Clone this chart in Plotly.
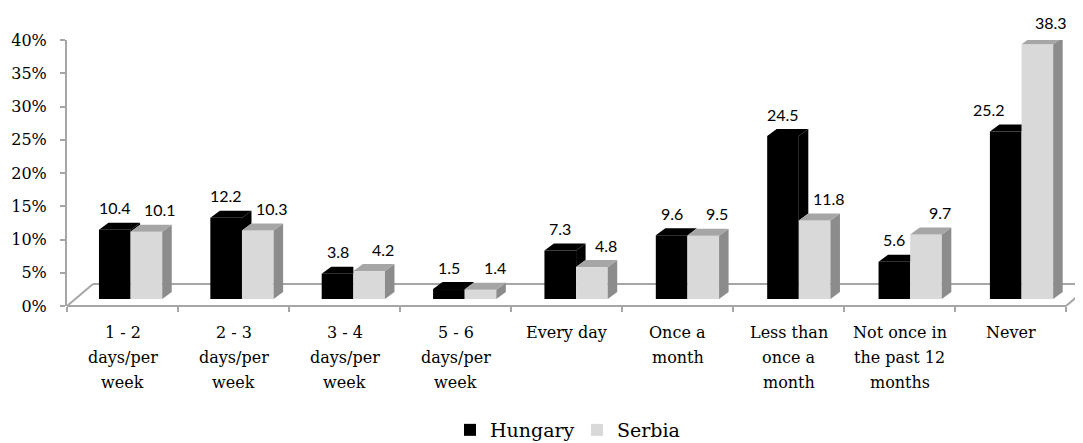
import plotly.graph_objects as go

# ---------------- data ----------------
categories = [
    "1 - 2\ndays/per\nweek",
    "2 - 3\ndays/per\nweek",
    "3 - 4\ndays/per\nweek",
    "5 - 6\ndays/per\nweek",
    "Every day",
    "Once a\nmonth",
    "Less than\nonce a\nmonth",
    "Not once in\nthe past 12\nmonths",
    "Never",
]
hungary = [10.4, 12.2, 3.8, 1.5, 7.3, 9.6, 24.5, 5.6, 25.2]
serbia = [10.1, 10.3, 4.2, 1.4, 4.8, 9.5, 11.8, 9.7, 38.3]
series_names = ["Hungary", "Serbia"]
y_tickvals = [0, 5, 10, 15, 20, 25, 30, 35, 40]
y_ticktext = [f"{v}%" for v in y_tickvals]

# ---------------- layout geometry ----------------
PAGE = 8                      # default page margin of the html body
W, H = 1083 - PAGE, 443 - PAGE
M_L, M_T = 67 - PAGE, 40 - PAGE
M_R = 0
M_B = H - (306 - PAGE)
X_RANGE = [-0.5, 8.653]
Y_RANGE = [0, 40]
PX_PER_X = (W - M_L - M_R) / (X_RANGE[1] - X_RANGE[0])
PX_PER_Y = (H - M_T - M_B) / (Y_RANGE[1] - Y_RANGE[0])

BASE = 7 / PX_PER_Y          # bars stand a little behind the floor's front edge
BAR_W = 0.285
DX = 9.5 / PX_PER_X          # 3-D depth of the bars
DY = 7 / PX_PER_Y
FDX = 26 / PX_PER_X          # depth of the floor
FDY = 22 / PX_PER_Y

BLACK = "#000000"
S_FRONT = "#d9d9d9"
S_TOP = "#a6a6a6"
S_SIDE = "#8c8c8c"
GRID = "#a6a6a6"

n = len(categories)
xs = list(range(n))
h_off = [-0.212 + 0.0033 * i for i in xs]
s_off = [o + BAR_W for o in h_off]

fig = go.Figure()

# front faces
fig.add_trace(go.Bar(x=xs, y=hungary, base=BASE, width=BAR_W, offset=h_off,
                     marker=dict(color=BLACK, line=dict(width=0)),
                     name=series_names[0]))
fig.add_trace(go.Bar(x=xs, y=serbia, base=BASE, width=BAR_W, offset=s_off,
                     marker=dict(color=S_FRONT, line=dict(width=0)),
                     name=series_names[1]))

# 3-D faces built from the same values
h_top_x, h_top_y, h_side_x, h_side_y = [], [], [], []
s_top_x, s_top_y, s_side_x, s_side_y = [], [], [], []
for i in xs:
    hv, sv = hungary[i], serbia[i]
    hl = i + h_off[i]
    hr = hl + BAR_W
    sl = i + s_off[i]
    sr = sl + BAR_W
    ht = BASE + hv
    st = BASE + sv
    if sv >= hv:
        h_top_x += [hl, hl + DX, hr, hr, None]
        h_top_y += [ht, ht + DY, ht + DY, ht, None]
    else:
        h_top_x += [hl, hl + DX, hr + DX, hr, None]
        h_top_y += [ht, ht + DY, ht + DY, ht, None]
        h_side_x += [hr, hr + DX, hr + DX, hr, None]
        h_side_y += [st, st + DY, ht + DY, ht, None]
    s_side_x += [sr, sr + DX, sr + DX, sr, None]
    s_side_y += [BASE, BASE + DY, st + DY, st, None]
    s_top_x += [sl, sl + DX, sr + DX, sr, None]
    s_top_y += [st, st + DY, st + DY, st, None]

for px, py, col in [(h_side_x, h_side_y, BLACK), (h_top_x, h_top_y, BLACK),
                    (s_side_x, s_side_y, S_SIDE), (s_top_x, s_top_y, S_TOP)]:
    fig.add_trace(go.Scatter(x=px, y=py, mode="lines", fill="toself",
                             fillcolor=col, line=dict(width=0, color=col),
                             showlegend=False, hoverinfo="skip"))

# floor (shapes below the data)
def yp(v):
    return (v - Y_RANGE[0]) / (Y_RANGE[1] - Y_RANGE[0])

x0, x1 = -0.5, n - 0.5
floor_pts = [(x0, 0), (x1, 0), (x1 + FDX, FDY), (x0 + FDX, FDY), (x0, 0)]
shapes = []
for k in range(4):
    a = floor_pts[k]
    b = floor_pts[k + 1]
    shapes.append(dict(type="line", xref="x", yref="paper",
                       x0=a[0], y0=yp(a[1]), x1=b[0], y1=yp(b[1]),
                       line=dict(color=GRID, width=2), layer="below"))

annotations = []
# value labels
for i in xs:
    hv, sv = hungary[i], serbia[i]
    htxt = f"{hv:.1f}"
    stxt = f"{sv:.1f}"
    label_half = 4 * len(htxt)
    bar_half = BAR_W * PX_PER_X / 2
    hshift = -(label_half + 1) if (sv > hv and label_half >= bar_half) else 0
    annotations.append(dict(x=i + h_off[i] + BAR_W / 2, y=BASE + hv, xref="x", yref="y",
                            text=htxt, showarrow=False, yanchor="middle", xanchor="center",
                            yshift=22, xshift=hshift,
                            font=dict(family="Lato", size=16, color="#000000")))
    annotations.append(dict(x=i + s_off[i] + BAR_W / 2, y=BASE + sv, xref="x", yref="y",
                            text=stxt, showarrow=False, yanchor="middle", xanchor="center",
                            yshift=22, xshift=14,
                            font=dict(family="Lato", size=16, color="#000000")))

# category labels (one annotation per line for the wide line spacing)
for i, cat in enumerate(categories):
    for j, line in enumerate(cat.split("\n")):
        annotations.append(dict(x=i, y=0, xref="x", yref="y", text=line,
                                showarrow=False, yanchor="middle", xanchor="center",
                                yshift=-(26 + 25 * j),
                                font=dict(family="DejaVu Serif", size=16, color="#000000")))

PLOT_W = W - M_L - M_R
PLOT_H = H - M_T - M_B
fig.update_layout(
    width=W, height=H,
    margin=dict(l=M_L, r=M_R, t=M_T, b=M_B, autoexpand=False),
    paper_bgcolor="white", plot_bgcolor="white",
    barmode="overlay",
    showlegend=True,
    legend=dict(orientation="h", x=(450 - PAGE - M_L) / PLOT_W, xanchor="left",
                y=((306 - PAGE) - (430 - PAGE)) / PLOT_H, yanchor="middle",
                font=dict(family="DejaVu Serif", size=19, color="#000000"),
                itemwidth=30, entrywidth=82, entrywidthmode="pixels",
                bgcolor="rgba(0,0,0,0)"),
    xaxis=dict(range=X_RANGE, tickvals=[k - 0.5 for k in range(n + 1)],
               showticklabels=False, ticks="outside", ticklen=5, tickcolor=GRID,
               tickwidth=1.5, showgrid=False, zeroline=False, showline=False,
               fixedrange=True),
    yaxis=dict(range=Y_RANGE, tickvals=y_tickvals, ticktext=y_ticktext,
               ticks="outside", ticklen=5, tickcolor=GRID, tickwidth=1.5,
               showline=True, linecolor=GRID, linewidth=2,
               showgrid=False, zeroline=False, ticklabelstandoff=10,
               tickfont=dict(family="DejaVu Serif", size=16, color="#000000"),
               fixedrange=True),
    shapes=shapes,
    annotations=annotations,
)

fig.write_html("out.html")
